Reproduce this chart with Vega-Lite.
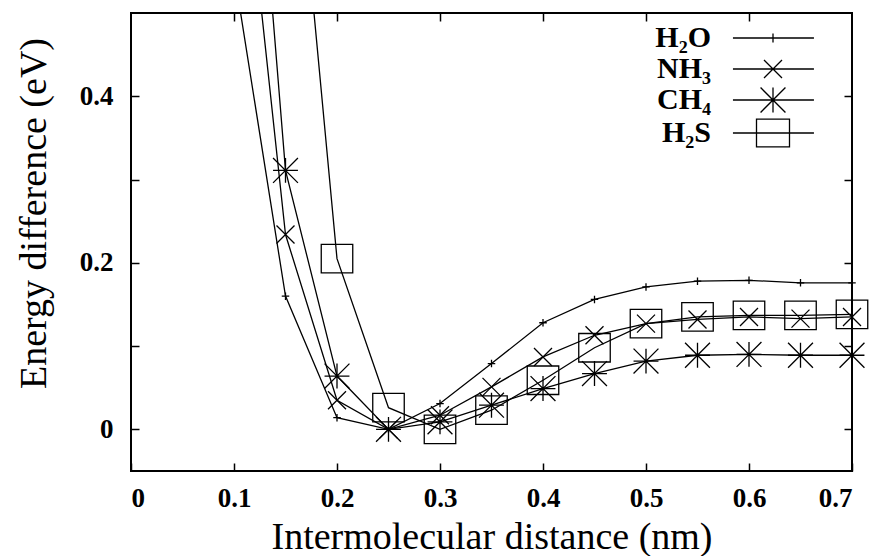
{
  "$schema": "https://vega.github.io/schema/vega-lite/v6.json",
  "width": 721,
  "height": 458,
  "autosize": "none",
  "padding": {"left": 131, "top": 13, "right": 18, "bottom": 85},
  "background": "white",
  "config": {
    "view": {"stroke": "black", "strokeWidth": 2},
    "font": "Liberation Serif",
    "axis": {
      "grid": false,
      "domain": false,
      "tickColor": "black",
      "tickWidth": 1.5,
      "tickSize": -8,
      "labelColor": "black",
      "titleColor": "black",
      "labelFont": "Liberation Serif",
      "titleFont": "Liberation Serif",
      "labelFontSize": 27,
      "labelFontWeight": "bold",
      "titleFontSize": 38,
      "titleFontWeight": "normal",
      "format": ".1~f"
    }
  },
  "data": {
    "values": [
      {"series": "H₂O", "distance": 0.10, "energy": 0.55},
      {"series": "H₂O", "distance": 0.15, "energy": 0.160},
      {"series": "H₂O", "distance": 0.20, "energy": 0.014},
      {"series": "H₂O", "distance": 0.25, "energy": 0.000},
      {"series": "H₂O", "distance": 0.30, "energy": 0.031},
      {"series": "H₂O", "distance": 0.35, "energy": 0.079},
      {"series": "H₂O", "distance": 0.40, "energy": 0.128},
      {"series": "H₂O", "distance": 0.45, "energy": 0.156},
      {"series": "H₂O", "distance": 0.50, "energy": 0.171},
      {"series": "H₂O", "distance": 0.55, "energy": 0.178},
      {"series": "H₂O", "distance": 0.60, "energy": 0.179},
      {"series": "H₂O", "distance": 0.65, "energy": 0.176},
      {"series": "H₂O", "distance": 0.70, "energy": 0.176},
      {"series": "NH₃", "distance": 0.10, "energy": 0.81},
      {"series": "NH₃", "distance": 0.15, "energy": 0.234},
      {"series": "NH₃", "distance": 0.20, "energy": 0.035},
      {"series": "NH₃", "distance": 0.25, "energy": 0.000},
      {"series": "NH₃", "distance": 0.30, "energy": 0.017},
      {"series": "NH₃", "distance": 0.35, "energy": 0.051},
      {"series": "NH₃", "distance": 0.40, "energy": 0.087},
      {"series": "NH₃", "distance": 0.45, "energy": 0.113},
      {"series": "NH₃", "distance": 0.50, "energy": 0.127},
      {"series": "NH₃", "distance": 0.55, "energy": 0.132},
      {"series": "NH₃", "distance": 0.60, "energy": 0.135},
      {"series": "NH₃", "distance": 0.65, "energy": 0.133},
      {"series": "NH₃", "distance": 0.70, "energy": 0.135},
      {"series": "CH₄", "distance": 0.10, "energy": 1.07},
      {"series": "CH₄", "distance": 0.15, "energy": 0.311},
      {"series": "CH₄", "distance": 0.20, "energy": 0.064},
      {"series": "CH₄", "distance": 0.25, "energy": 0.000},
      {"series": "CH₄", "distance": 0.30, "energy": 0.009},
      {"series": "CH₄", "distance": 0.35, "energy": 0.029},
      {"series": "CH₄", "distance": 0.40, "energy": 0.049},
      {"series": "CH₄", "distance": 0.45, "energy": 0.067},
      {"series": "CH₄", "distance": 0.50, "energy": 0.082},
      {"series": "CH₄", "distance": 0.55, "energy": 0.089},
      {"series": "CH₄", "distance": 0.60, "energy": 0.090},
      {"series": "CH₄", "distance": 0.65, "energy": 0.089},
      {"series": "CH₄", "distance": 0.70, "energy": 0.089},
      {"series": "H₂S", "distance": 0.15, "energy": 0.865},
      {"series": "H₂S", "distance": 0.20, "energy": 0.205},
      {"series": "H₂S", "distance": 0.25, "energy": 0.026},
      {"series": "H₂S", "distance": 0.30, "energy": 0.000},
      {"series": "H₂S", "distance": 0.35, "energy": 0.023},
      {"series": "H₂S", "distance": 0.40, "energy": 0.059},
      {"series": "H₂S", "distance": 0.45, "energy": 0.098},
      {"series": "H₂S", "distance": 0.50, "energy": 0.127},
      {"series": "H₂S", "distance": 0.55, "energy": 0.135},
      {"series": "H₂S", "distance": 0.60, "energy": 0.137},
      {"series": "H₂S", "distance": 0.65, "energy": 0.137},
      {"series": "H₂S", "distance": 0.70, "energy": 0.138}
    ]
  },
  "layer": [
    {
      "mark": {"type": "line", "clip": true, "color": "black", "strokeWidth": 1.3},
      "encoding": {
        "x": {
          "field": "distance", "type": "quantitative",
          "scale": {"domain": [0, 0.7], "nice": false, "zero": false},
          "axis": {
            "orient": "bottom",
            "values": [0, 0.1, 0.2, 0.3, 0.4, 0.5, 0.6, 0.7],
            "labelPadding": 22,
            "title": "Intermolecular distance (nm)",
            "titleY": 77,
            "titleBaseline": "alphabetic"
          }
        },
        "y": {
          "field": "energy", "type": "quantitative",
          "scale": {"domain": [-0.05, 0.5], "nice": false, "zero": false},
          "axis": {
            "orient": "left",
            "values": [0, 0.1, 0.2, 0.3, 0.4],
            "labelExpr": "(datum.value == 0 || datum.value == 0.2 || datum.value == 0.4) ? datum.label : ''",
            "labelPadding": 26,
            "title": "Energy difference (eV)",
            "titleX": -86,
            "titleY": 200,
            "titleAngle": -90,
            "titleAlign": "center",
            "titleBaseline": "alphabetic"
          }
        },
        "detail": {"field": "series"}
      }
    },
    {
      "transform": [{"filter": "datum.energy <= 0.5"}],
      "mark": {"type": "point", "filled": false, "color": "black", "opacity": 1, "size": 900, "strokeWidth": 1.3},
      "encoding": {
        "x": {"field": "distance", "type": "quantitative", "axis": null},
        "y": {"field": "energy", "type": "quantitative", "axis": null},
        "shape": {
          "field": "series", "type": "nominal",
          "scale": {
            "domain": ["H₂O", "NH₃", "CH₄", "H₂S"],
            "range": [
              "M-0.25,0H0.25M0,-0.25V0.25",
              "M-0.6,-0.6L0.6,0.6M-0.6,0.6L0.6,-0.6",
              "M-0.83,0H0.83M0,-0.83V0.83M-0.83,-0.83L0.83,0.83M-0.83,0.83L0.83,-0.83",
              "M-1.05,-0.95H1.05V0.95H-1.05Z"
            ]
          },
          "legend": null
        }
      }
    },
    {
      "transform": [{"filter": "false"}],
      "mark": {"type": "point", "filled": false, "color": "black", "opacity": 1},
      "encoding": {
        "x": {"field": "distance", "type": "quantitative", "axis": null},
        "y": {"field": "energy", "type": "quantitative", "axis": null},
        "shape": {
          "field": "series", "type": "nominal",
          "scale": {
            "domain": ["H₂O", "NH₃", "CH₄", "H₂S"],
            "range": [
              "M-2.67,0H2.73M0,-0.3V0.3",
              "M-2.67,0H2.73M-0.6,-0.6L0.6,0.6M-0.6,0.6L0.6,-0.6",
              "M-2.67,0H2.73M-0.83,0H0.83M0,-0.83V0.83M-0.83,-0.83L0.83,0.83M-0.83,0.83L0.83,-0.83",
              "M-2.67,0H2.73M-1.1,-0.93H1.1V0.93H-1.1Z"
            ]
          },
          "legend": {
            "orient": "none",
            "legendX": 626,
            "legendY": 9,
            "title": null,
            "padding": 0,
            "rowPadding": 0,
            "symbolSize": 900,
            "symbolStrokeWidth": 1.3,
            "symbolStrokeColor": "black",
            "symbolFillColor": "transparent",
            "labelFont": "Liberation Serif",
            "labelFontSize": 30,
            "labelFontWeight": "bold",
            "labelColor": "black",
            "labelAlign": "right",
            "labelOffset": -78,
            "labelLimit": 0
          }
        }
      }
    },
    {
      "transform": [{"filter": "false"}],
      "mark": {"type": "point"},
      "encoding": {
        "x": {
          "field": "distance", "type": "quantitative",
          "axis": {"orient": "top", "values": [0.1, 0.2, 0.3, 0.4, 0.5, 0.6], "labels": false, "title": null}
        },
        "y": {
          "field": "energy", "type": "quantitative",
          "axis": {"orient": "right", "values": [0, 0.1, 0.2, 0.3, 0.4], "labels": false, "title": null}
        }
      }
    }
  ],
  "resolve": {
    "scale": {"shape": "independent"},
    "axis": {"x": "independent", "y": "independent"}
  }
}
